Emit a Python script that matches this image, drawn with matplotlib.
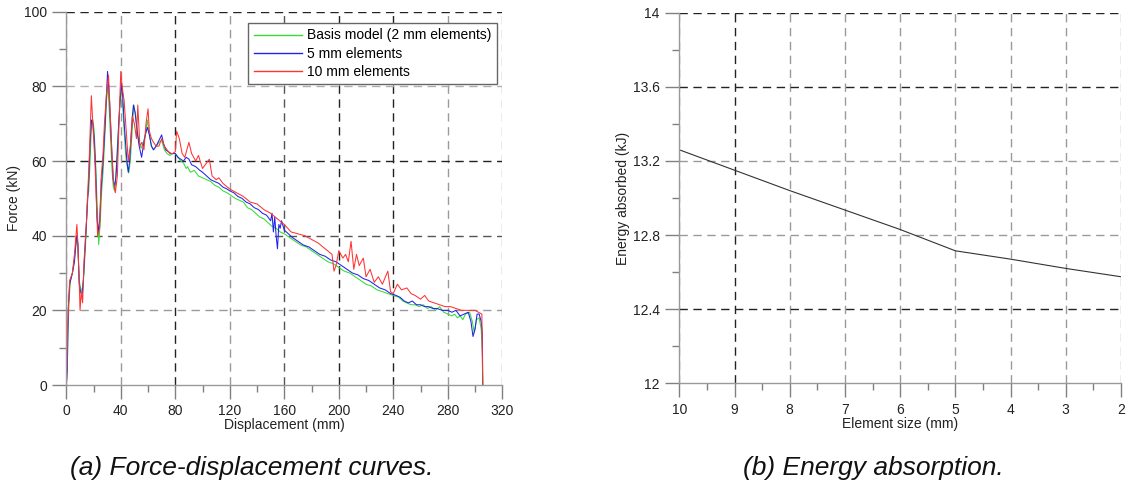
import matplotlib
matplotlib.use("Agg")
import matplotlib.pyplot as plt
import matplotlib.ticker as mticker
from matplotlib.lines import Line2D

plt.rcParams["font.family"] = ["Liberation Sans", "DejaVu Sans"]

# (a) force-displacement
basis_x = [0, 0.8, 1.2, 2, 3, 4.5, 6, 7.5, 8.5, 9.5, 10.5, 12, 13, 14.5, 15.5, 16.5, 17.5, 18.5,
           19.5, 20.5, 21.5, 22.5, 23.8, 25, 26, 27, 28.5, 29.5, 30.5, 31.5, 32.5, 33.5, 34.5,
           35.5, 36.5, 37.5, 38.5, 39.5, 40.5, 41.5, 42.5, 43.5, 44.5, 45.9, 47, 48, 49.6, 51,
           52.5, 54, 55, 56.5, 58, 59.5, 61, 62.5, 64, 66, 68, 70, 72, 74, 76, 78, 80,
           82, 84, 86, 88, 89, 91, 94, 97, 100, 103, 106, 109, 112, 115, 118, 120, 122, 124,
           127, 130, 133, 136, 139, 142, 145, 148, 151, 154, 157, 160, 164, 168, 172, 176,
           180, 184, 188, 192, 196, 200, 204, 208, 212, 216, 220, 224, 228, 232, 236, 240,
           244, 247, 250, 253, 256, 259, 262, 265, 268, 271, 274, 277, 280, 283, 285, 287,
           289, 291, 293, 296, 298, 299.5, 301, 303, 304.5, 305.5, 305.8]
basis_f = [0, 6, 14, 22, 28, 30, 34, 39, 37, 28, 26, 25, 30, 40, 50, 52, 60, 70,
           71, 68, 60, 50, 37.6, 44, 52, 57, 68, 76, 80, 74, 66, 58, 53,
           52, 57, 64, 70, 77, 79, 74, 68, 62, 59, 56.8, 60, 66, 75, 72,
           67, 64, 63.5, 65, 67, 71, 67, 64, 63, 64, 65, 65.5, 63, 62, 61.5, 62, 62,
           61, 60, 59.5, 58, 58.5, 57, 57.5, 56, 55.5, 55, 54.5, 53.5, 53, 52, 51.5, 51, 50.5, 50,
           49.5, 49, 47.5, 47, 46, 45, 44.5, 43.5, 42.5, 42, 41, 40.5, 39.5, 38.5, 37.5, 37,
           36, 35, 34, 33, 32.5, 31.5, 30.5, 30, 29, 28, 27, 26.5, 25.5, 25, 24.5, 24,
           23.5, 22.5, 22, 21.5, 21.5, 21, 21.5, 20.5, 21, 20, 21, 19.5, 19, 18.5, 19, 18,
           18.5, 17.5, 19, 19.5, 17, 14, 17.5, 18, 15, 8, 0]

el5_x = [0, 0.8, 1, 1.5, 2.5, 4.5, 6, 7.5, 8.5, 9.5, 10.5, 11.5, 12.5, 14, 15.5, 16.5, 17.5,
         18.5, 19.5, 20.5, 21.5, 22.5, 23.5, 24.5, 25.5, 27, 28.5, 29.5, 30.3, 31.5, 32.5,
         33.5, 34.5, 35.5, 36.5, 37.5, 38.5, 39.5, 40.5, 41.5, 42.5, 43.5, 44.5, 45.5, 46.5,
         47.5, 48.5, 49.3, 50.5, 52, 53.5, 55.3, 56.5, 58, 59.5, 61, 62.5, 64, 66, 68, 70,
         71.5, 73, 75, 77, 80,
         82, 84, 86, 88, 90, 92, 95, 98, 100, 103, 106, 109, 112, 115, 118, 120, 123, 126,
         129, 132, 135, 138, 141, 144, 147, 150, 151, 152, 153, 154, 155, 156, 157, 158, 160,
         163, 166, 170, 174, 178, 182, 186, 190, 194, 198, 202, 206, 210, 214, 218, 222,
         226, 230, 234, 238, 242, 245, 248, 251, 254, 257, 260, 263, 266, 269, 272, 276,
         280, 283, 286, 289, 292, 295, 297, 298.5, 300, 301.5, 303, 304.5, 305.3, 305.6]
el5_f = [0, 4, 10, 21, 27, 30, 33, 40, 38, 27, 25, 24, 28, 38, 48, 55, 65,
         71, 70, 66, 58, 45, 41, 44, 52, 60, 70, 78, 84, 78, 70,
         62, 55, 53, 56, 62, 70, 76, 81, 77, 70, 65, 60, 57, 60,
         66, 72, 75, 73, 68, 64, 61, 64, 67, 69, 67, 64, 63, 64, 65.5, 67,
         64.5, 63, 62.5, 62, 62,
         61, 60.5, 60, 61, 60.5, 59, 58.5, 57.5, 57, 56, 55, 54.5, 54, 53, 52.5, 52, 51.5, 50.5,
         50, 49, 48.5, 47.5, 47, 46, 45.5, 44, 46, 41, 45, 40, 36.5, 43, 42, 44, 41.5,
         40.5, 39.5, 38.5, 37.5, 37, 36, 35, 34.5, 33.5, 33, 32, 31, 30, 29.5, 28.5, 28,
         27, 26, 25.5, 24.5, 24, 23.5, 22.5, 22, 22.5, 21.5, 21.5, 21, 21, 20.5, 20.5, 20,
         20, 19.5, 20, 18.5, 19, 19.5, 17, 13, 15, 19, 19, 17, 14, 0]

el10_x = [0, 0.3, 0.8, 1.5, 2.5, 4.5, 6, 7.8, 8.5, 9.5, 10.1, 11, 12, 13, 15, 17, 18.4, 19.5,
          21, 23, 24.5, 25.5, 27, 28, 29.5, 31, 32, 33.5, 34.5, 36, 37.5, 38.5, 40, 41,
          42.5, 44, 45.5, 47, 48.5, 50, 51.5, 52.5, 54, 55.5, 57, 58.5, 60, 61, 62.5, 64,
          66, 68, 70, 72, 74, 76, 78, 80,
          81, 83, 85, 87, 90, 92, 95, 97, 100, 102, 105, 107, 110, 112, 115, 120, 125, 130,
          135, 140, 145, 150, 155, 160, 165, 170, 175, 180, 185, 190, 195, 196.5, 198, 200,
          203, 205, 207, 209, 211, 213, 215, 218, 220, 223, 226, 229, 232, 236, 238, 240,
          243, 246, 250, 253, 256, 260, 263, 266, 270, 274, 278, 282, 286, 290, 294, 300,
          305, 305.6]
el10_f = [0, 2, 14, 20, 28, 30, 35, 43, 38, 28, 20, 25, 22, 33, 45, 62, 77.5, 70,
          60, 40, 42, 55, 62, 70, 78, 83, 75, 62, 55, 51.5, 56, 68, 84, 80,
          76, 68, 60, 64, 72, 70, 66, 75, 64, 65, 63, 70, 74, 68, 66, 65,
          64, 64, 66, 64, 63, 62, 62, 62.5,
          68, 66, 62, 61, 65, 62, 60, 61.5, 58, 59, 60.5, 56, 55, 55.5, 54, 52.5, 51.5, 50.5,
          49, 48.5, 47, 46, 44.5, 43, 41, 40.5, 40, 39, 38, 36.5, 35, 30.5, 32, 36,
          34, 35, 33, 38.5, 31, 35, 32, 34, 29, 31, 27.5, 29, 27, 30.5, 25, 24.5,
          27, 25.5, 26, 24.5, 24, 23, 24, 22.5, 22, 21.5, 21, 21, 20.5, 20, 20, 20,
          19, 0]

# (b) energy absorption
elem_size = [10, 9, 8, 7, 6, 5, 4, 3, 2]
energy_kj = [13.26, 13.15, 13.04, 12.935, 12.83, 12.715, 12.67, 12.62, 12.575]

series_labels = ["Basis model (2 mm elements)", "5 mm elements", "10 mm elements"]
series_colors = ["#33dd33", "#2222ee", "#ff3333"]

DARK = "#222222"
GRAY = "#9a9a9a"
DASH = (0, (6, 4))


def style_axes(ax):
    for side in ("top", "right"):
        ax.spines[side].set_visible(False)
    for side in ("left", "bottom"):
        ax.spines[side].set_color(GRAY)
        ax.spines[side].set_linewidth(1.0)
        ax.spines[side].set_zorder(3)
    ax.tick_params(which="major", length=10, width=1, color="#808080",
                   labelsize=10, labelcolor="#222222")
    ax.tick_params(which="minor", length=5, width=1, color="#808080")
    ax.tick_params(axis="x", pad=4)
    ax.tick_params(axis="y", pad=4)
    ax.grid(True, which="major", linestyle=DASH, linewidth=1.0)
    ax.set_axisbelow(True)


def colour_grid(axis, dark_at, mid_at=(), light_at=(), hide_at=()):
    # colour each grid line by where it sits
    for tick in axis.get_major_ticks():
        loc = tick.get_loc()
        near = lambda vals: any(abs(loc - v) < 1e-6 for v in vals)
        c = GRAY
        if near(dark_at):
            c = DARK
        elif near(mid_at):
            c = "#555555"
        elif near(light_at):
            c = "#b0b0b0"
        tick.gridline.set_color(c)
        if near(hide_at):
            tick.gridline.set_visible(False)


fig = plt.figure(figsize=(11.29, 4.86), dpi=100)

# --- left panel
ax1 = fig.add_axes([0.0587, 0.2078, 0.3862, 0.7681])
ax1.plot(basis_x, basis_f, color=series_colors[0], lw=0.75)
ax1.plot(el5_x, el5_f, color=series_colors[1], lw=0.75)
ax1.plot(el10_x, el10_f, color=series_colors[2], lw=0.75)
ax1.set_xlim(0, 320)
ax1.set_ylim(0, 100)
ax1.xaxis.set_major_locator(mticker.MultipleLocator(40))
ax1.xaxis.set_minor_locator(mticker.MultipleLocator(20))
ax1.yaxis.set_major_locator(mticker.MultipleLocator(20))
ax1.yaxis.set_minor_locator(mticker.MultipleLocator(10))
style_axes(ax1)
ax1.set_xlabel("Displacement (mm)", fontsize=10, labelpad=0, color="#222222")
ax1.set_ylabel("Force (kN)", fontsize=10, labelpad=2, color="#222222")

# --- right panel
ax2 = fig.add_axes([0.6017, 0.2113, 0.3912, 0.7626])
ax2.plot(elem_size, energy_kj, color="#333333", lw=0.8)
ax2.set_xlim(10, 2)
ax2.set_ylim(12, 14)
ax2.xaxis.set_major_locator(mticker.MultipleLocator(1))
ax2.xaxis.set_minor_locator(mticker.MultipleLocator(0.5))
ax2.yaxis.set_major_locator(mticker.MultipleLocator(0.4))
ax2.yaxis.set_minor_locator(mticker.MultipleLocator(0.2))
ax2.yaxis.set_major_formatter(mticker.FuncFormatter(lambda v, _: f"{v:g}"))
style_axes(ax2)
ax2.set_xlabel("Element size (mm)", fontsize=10, labelpad=0, color="#222222")
ax2.set_ylabel("Energy absorbed (kJ)", fontsize=10, labelpad=2, color="#222222")

fig.canvas.draw()
colour_grid(ax1.xaxis, dark_at=(80, 200, 240), mid_at=(160,))
colour_grid(ax1.yaxis, dark_at=(60, 100), mid_at=(40,), light_at=(80,), hide_at=(0,))
colour_grid(ax2.xaxis, dark_at=(9,))
colour_grid(ax2.yaxis, dark_at=(14, 13.6, 12.4), hide_at=(12,))

handles = [Line2D([], [], color=c, lw=1.0, linestyle="-") for c in series_colors]
leg = ax1.legend(handles, series_labels, loc="upper right",
                 bbox_to_anchor=(0.988, 0.97), borderaxespad=0,
                 fontsize=10, frameon=True, fancybox=False, framealpha=1,
                 edgecolor="#666666", handlelength=3.5, handletextpad=0.35,
                 labelspacing=0.3, borderpad=0.4)
leg.get_frame().set_linewidth(1.0)

# captions
fig.text(252 / 1129, 1 - 468 / 486, "(a) Force-displacement curves.", fontsize=19,
         style="italic", ha="center", va="center", color="#111111")
fig.text(873 / 1129, 1 - 468 / 486, "(b) Energy absorption.", fontsize=19,
         style="italic", ha="center", va="center", color="#111111")

fig.savefig("out.png", dpi=100)
